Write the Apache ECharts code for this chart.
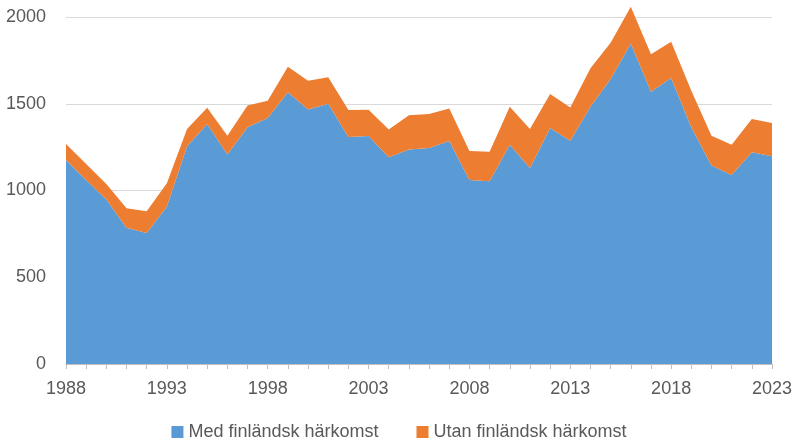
<!DOCTYPE html>
<html>
<head>
<meta charset="utf-8">
<script src="https://cdn.jsdelivr.net/npm/echarts@6/dist/echarts.min.js"></script>
<style>
  html, body { margin: 0; padding: 0; background: #fff; }
  #chart { width: 798px; height: 447px; }
</style>
</head>
<body>
<div id="chart"></div>
<script>
const years = []
for (let y = 1988; y <= 2023; y++) years.push(String(y))

const withFinnish = [
  1176, 1061, 948, 785, 755, 908, 1255, 1383, 1207, 1364, 1418, 1567,
  1467, 1500, 1308, 1314, 1191, 1237, 1245, 1285, 1061, 1053, 1263, 1130,
  1360, 1287, 1483, 1642, 1847, 1569, 1648, 1364, 1144, 1090, 1220, 1197
]

const withoutFinnish = [
  92, 92, 90, 113, 126, 134, 99, 94, 109, 126, 99, 146,
  165, 153, 156, 152, 161, 197, 196, 188, 167, 171, 220, 224,
  196, 192, 222, 210, 212, 216, 210, 211, 172, 173, 192, 192
]

const seriesNames = ['Med finländsk härkomst', 'Utan finländsk härkomst']

const font = 'Liberation Sans'

const chart = echarts.init(document.getElementById('chart'))

chart.setOption({
  animation: false,
  grid: {
    left: 66,
    right: 26,
    top: 17,
    bottom: 83
  },
  legend: {
    bottom: 1,
    left: 'center',
    itemWidth: 12,
    itemHeight: 12,
    itemGap: 38,
    icon: 'rect',
    textStyle: { fontFamily: font, fontSize: 18, color: '#595959' },
    data: seriesNames
  },
  xAxis: {
    type: 'category',
    data: years,
    boundaryGap: false,
    axisLine: { lineStyle: { color: '#bfbfbf' } },
    axisTick: { show: true, interval: 0, length: 5, lineStyle: { color: '#bfbfbf' } },
    axisLabel: {
      interval: 4,
      margin: 16,
      fontFamily: font,
      fontSize: 18,
      color: '#595959'
    }
  },
  yAxis: {
    type: 'value',
    min: 0,
    max: 2000,
    interval: 500,
    axisLine: { show: false },
    axisTick: { show: false },
    splitLine: { lineStyle: { color: '#d9d9d9', width: 1 } },
    axisLabel: {
      margin: 20,
      fontFamily: font,
      fontSize: 18,
      color: '#595959',
      formatter: v => String(v)
    }
  },
  series: [
    {
      name: seriesNames[0],
      type: 'line',
      stack: 'total',
      data: withFinnish,
      symbol: 'none',
      clip: false,
      lineStyle: { width: 0 },
      itemStyle: { color: '#5B9BD5' },
      areaStyle: { color: '#5B9BD5', opacity: 1 }
    },
    {
      name: seriesNames[1],
      type: 'line',
      stack: 'total',
      data: withoutFinnish,
      symbol: 'none',
      clip: false,
      lineStyle: { width: 0 },
      itemStyle: { color: '#ED7D31' },
      areaStyle: { color: '#ED7D31', opacity: 1 }
    }
  ]
})
</script>
</body>
</html>
